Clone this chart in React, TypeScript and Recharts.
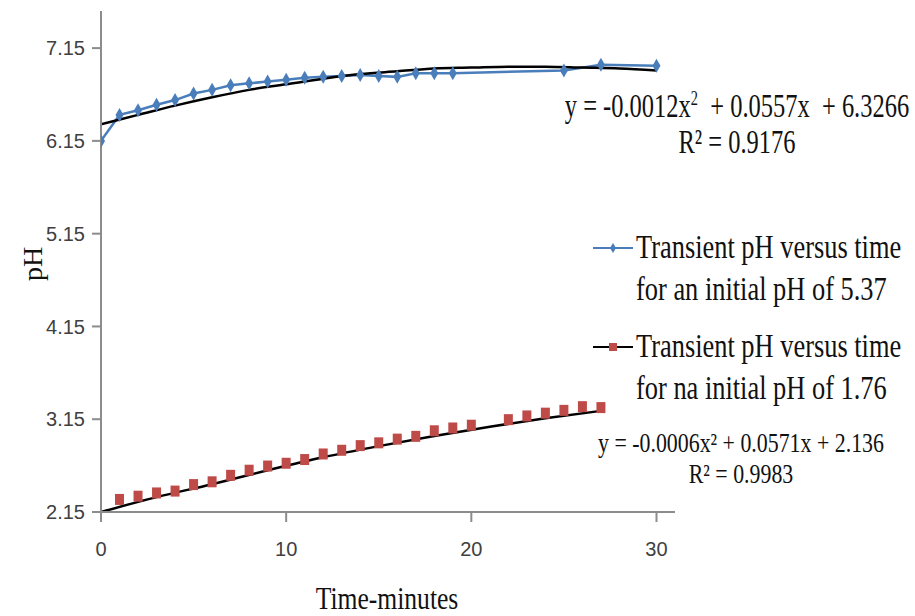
import { ComposedChart, Line, XAxis, YAxis, Legend } from "recharts";

// ==============================
// DATA
// ==============================
const upperTime = [0, 1, 2, 3, 4, 5, 6, 7, 8, 9, 10, 11, 12, 13, 14, 15, 16, 17, 18, 19, 25, 27, 30];
const upperPH = [6.15, 6.43, 6.48, 6.54, 6.59, 6.66, 6.7, 6.75, 6.77, 6.79, 6.81, 6.83, 6.84, 6.85, 6.86, 6.85, 6.84, 6.88, 6.88, 6.88, 6.91, 6.97, 6.96];

const lowerTime = [1, 2, 3, 4, 5, 6, 7, 8, 9, 10, 11, 12, 13, 14, 15, 16, 17, 18, 19, 20, 22, 23, 24, 25, 26, 27];
const lowerPH = [2.28, 2.315, 2.35, 2.37, 2.44, 2.47, 2.54, 2.595, 2.64, 2.67, 2.71, 2.77, 2.81, 2.86, 2.89, 2.93, 2.96, 3.02, 3.05, 3.08, 3.14, 3.18, 3.21, 3.24, 3.28, 3.27];

// trendlines
const upperFitTime = [0, 2, 4, 6, 8, 10, 12, 14, 16, 18, 20, 22, 24, 26, 28, 30];
const upperFitPH = [6.33, 6.43, 6.53, 6.62, 6.70, 6.76, 6.82, 6.87, 6.90, 6.93, 6.94, 6.95, 6.95, 6.94, 6.93, 6.91];

const lowerFitTime = [0, 3, 6, 9, 12, 15, 18, 21, 24, 27];
const lowerFitPH = [2.15, 2.31, 2.45, 2.6, 2.74, 2.86, 2.97, 3.07, 3.16, 3.24];

const yTicks = [2.15, 3.15, 4.15, 5.15, 6.15, 7.15];
const xTicks = [0, 10, 20, 30];

const legendLines = [
    ["Transient pH versus time", "for an initial pH of 5.37"],
    ["Transient pH versus time", "for na initial pH of 1.76"]
];

const BLUE = "#4a7ebb";
const RED = "#be4b48";

const zip = (xs: number[], ys: number[]) => xs.map((x, i) => ({ x, y: ys[i] }));

const Diamond = (props: any) => {
    const { cx, cy, index } = props;
    if (cx == null || cy == null) return null;
    return (
        <path
            key={`dia-${index}`}
            d={`M${cx},${cy - 7} L${cx + 4},${cy} L${cx},${cy + 7} L${cx - 4},${cy} Z`}
            fill={BLUE}
        />
    );
};

const Square = (props: any) => {
    const { cx, cy, index } = props;
    if (cx == null || cy == null) return null;
    return <rect key={`sq-${index}`} x={cx - 4.5} y={cy - 6} width={9} height={11} fill={RED} />;
};

const serif = "'Liberation Serif', 'Times New Roman', serif";
const sans = "'Liberation Sans', Arial, sans-serif";

const LegendBox = () => (
    <div style={{ fontFamily: serif, color: "#111" }}>
        {legendLines.map((lines, i) => (
            <div key={i} style={{ display: "flex", alignItems: "flex-start", marginBottom: i === 0 ? 15 : 0 }}>
                <svg width={46} height={30} style={{ flexShrink: 0, marginTop: 7 }}>
                    <line x1={3} y1={15} x2={43} y2={15} stroke={i === 0 ? BLUE : "#000"} strokeWidth={2} />
                    {i === 0 ? (
                        <path d="M23,10 L26,15 L23,20 L20,15 Z" fill={BLUE} />
                    ) : (
                        <rect x={19} y={11} width={8} height={8} fill={RED} />
                    )}
                </svg>
                <div
                    style={{
                        fontSize: 33,
                        lineHeight: "42px",
                        transform: "scaleX(0.8)",
                        transformOrigin: "left top",
                        whiteSpace: "nowrap"
                    }}
                >
                    <div>{lines[0]}</div>
                    <div>{lines[1]}</div>
                </div>
            </div>
        ))}
    </div>
);

const eqStyle = (left: number, top: number, size: number, scale: number, lh: number): React.CSSProperties => ({
    position: "absolute",
    left,
    top,
    width: 500,
    textAlign: "center",
    fontFamily: serif,
    fontSize: size,
    color: "#111",
    whiteSpace: "nowrap",
    transform: `scaleX(${scale})`,
    transformOrigin: "center top",
    lineHeight: `${lh}px`
});

export default function App() {
    return (
        <div style={{ position: "absolute", left: 0, top: 0, width: 915, height: 616, background: "#fff" }}>
            <ComposedChart width={915} height={616} margin={{ top: 11, right: 240, bottom: 0, left: 0 }}>
                <XAxis
                    type="number"
                    dataKey="x"
                    domain={[0, 31]}
                    ticks={xTicks}
                    allowDataOverflow
                    height={104}
                    stroke="#8c8c8c"
                    strokeWidth={2}
                    tickSize={10}
                    tickMargin={20}
                    tick={{ fill: "#404040", fontSize: 20, fontFamily: sans }}
                    label={{
                        content: () => (
                            <text
                                transform="translate(387,609) scale(0.8,1)"
                                textAnchor="middle"
                                style={{ fontFamily: serif, fontSize: 32, fill: "#111" }}
                            >
                                Time-minutes
                            </text>
                        )
                    }}
                />
                <YAxis
                    type="number"
                    domain={[2.15, 7.55]}
                    ticks={yTicks}
                    allowDataOverflow
                    width={101}
                    stroke="#8c8c8c"
                    strokeWidth={2}
                    tickSize={9}
                    tickMargin={7}
                    tickFormatter={(v: number) => v.toFixed(2)}
                    tick={{ fill: "#404040", fontSize: 20, fontFamily: sans }}
                    label={{
                        content: () => (
                            <text
                                transform="translate(36,264) rotate(-90)"
                                textAnchor="middle"
                                dominantBaseline="middle"
                                style={{ fontFamily: serif, fontSize: 28, fill: "#111" }}
                            >
                                pH
                            </text>
                        )
                    }}
                />

                {/* UPPER SERIES */}
                <Line
                    data={zip(upperTime, upperPH)}
                    dataKey="y"
                    type="linear"
                    stroke={BLUE}
                    strokeWidth={2.5}
                    dot={Diamond}
                    activeDot={false}
                    isAnimationActive={false}
                    legendType="none"
                />
                <Line
                    data={zip(upperFitTime, upperFitPH)}
                    dataKey="y"
                    type="monotone"
                    stroke="#000"
                    strokeWidth={2.5}
                    dot={false}
                    activeDot={false}
                    isAnimationActive={false}
                    legendType="none"
                />

                {/* LOWER SERIES */}
                <Line
                    data={zip(lowerTime, lowerPH)}
                    dataKey="y"
                    type="linear"
                    stroke="none"
                    dot={Square}
                    activeDot={false}
                    isAnimationActive={false}
                    legendType="none"
                />
                <Line
                    data={zip(lowerFitTime, lowerFitPH)}
                    dataKey="y"
                    type="monotone"
                    stroke="#000"
                    strokeWidth={2.5}
                    dot={false}
                    activeDot={false}
                    isAnimationActive={false}
                    legendType="none"
                />

                {/* LEGEND - middle/center so it takes no room from the plot */}
                <Legend
                    layout="horizontal"
                    verticalAlign="middle"
                    align="center"
                    content={<LegendBox />}
                    wrapperStyle={{ position: "absolute", left: 590, top: 226, width: 330 }}
                />
            </ComposedChart>

            {/* TRENDLINE EQUATIONS */}
            <div style={eqStyle(487, 80, 34, 0.72, 36)}>
                y = -0.0012x<sup style={{ fontSize: 20 }}>2</sup>&nbsp; + 0.0557x&nbsp; + 6.3266
                <br />
                R² = 0.9176
            </div>
            <div style={eqStyle(491, 428, 27, 0.81, 31)}>
                y = -0.0006x² + 0.0571x + 2.136
                <br />
                R² = 0.9983
            </div>
        </div>
    );
}
